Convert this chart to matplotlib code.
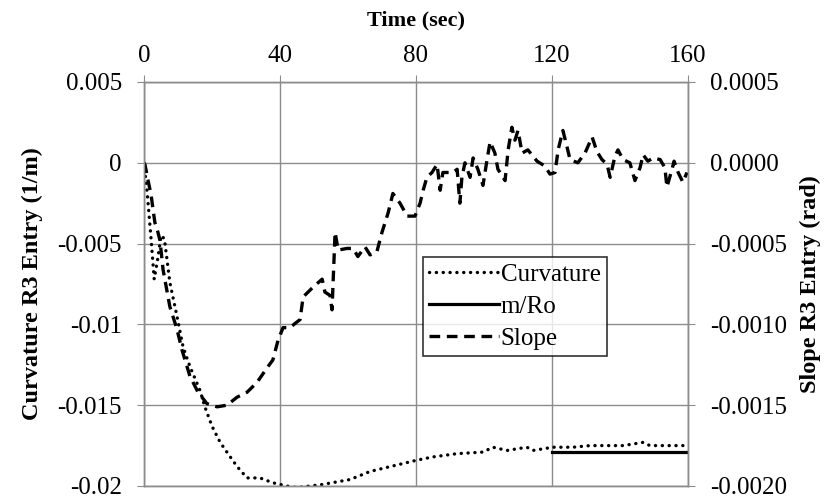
import matplotlib
matplotlib.use("Agg")
import matplotlib.pyplot as plt

plt.rcParams['font.family'] = ['Liberation Serif', 'DejaVu Serif']
plt.rcParams['axes.unicode_minus'] = False

# Curvature (1/m) vs time (s)
curv_t = [0, 1, 2, 3, 4, 5, 6, 7.6, 9.7, 11.5, 13.5, 16.5, 17.9, 20, 22.4, 24.7, 27.4, 30.3,
          34.1, 37.9, 42, 45, 52.6, 60.6, 66.5, 72.4, 80.3, 85, 92, 99.7, 102.6, 106.8,
          112.6, 114.4, 120.3, 126.2, 131.2, 140.9, 146.8, 148.8, 158.5]
curv_v = [0, -0.002, -0.0045, -0.0072, -0.006, -0.0045, -0.0047, -0.0074, -0.0095, -0.0114,
          -0.0126, -0.0141, -0.0151, -0.0163, -0.0173, -0.0180, -0.0188, -0.0195,
          -0.0195, -0.0198, -0.0200, -0.0201, -0.0199, -0.0196, -0.0191, -0.0188, -0.0184,
          -0.0182, -0.0180, -0.0179, -0.0176, -0.0178, -0.0176, -0.0178, -0.0176, -0.0176,
          -0.0175, -0.0175, -0.0173, -0.0175, -0.0175]

# m/Ro reference line
mro_t = [120, 160]
mro_v = [-0.0179, -0.0179]

# Slope (rad) vs time (s)
slope_t = [0, 0.3, 1.2, 2.1, 2.6, 3.2, 4.1, 4.7, 5.6, 7.6, 9.7, 11.2, 13.5, 15.9, 18.5, 21.5,
           24.4, 27.4, 30.3, 33.2, 36.5, 37.9, 39.4, 40.9, 42.9, 45.9, 46.8, 49.7, 52.4,
           53.2, 54.7, 55.3, 56.2, 57.1, 59.7, 61.5, 62.9, 65.0, 66.5, 68.5, 70.0, 71.8,
           73.2, 75.3, 77.4, 79.7, 81.2, 82.1, 83.2, 84.7, 86.2, 87.1, 87.9, 89.4, 90.9,
           92.1, 92.9, 93.5, 94.4, 95.9, 96.8, 98.2, 99.7, 100.9, 101.8, 103.2, 104.1,
           106.2, 107.1, 108.2, 109.1, 110.0, 111.2, 112.9, 115.6, 117.9, 119.4, 120.9,
           121.8, 123.2, 124.4, 125.3, 127.6, 129.7, 131.8, 133.2, 134.7, 136.2, 137.1,
           138.5, 139.4, 140.9, 142.9, 144.4, 145.9, 146.8, 148.2, 149.7, 151.8, 153.2,
           153.8, 155.3, 155.9, 157.1, 158.5, 159.7]
slope_v = [0, -0.000012, -0.00011, -0.0002, -0.00028, -0.00037, -0.00043, -0.00048, -0.00066,
           -0.00089, -0.00103, -0.00116, -0.00132, -0.00142, -0.00149, -0.00151, -0.00150,
           -0.00145, -0.00142, -0.00136, -0.00126, -0.00122, -0.0011, -0.00102, -0.00102,
           -0.00097, -0.00083, -0.00077, -0.00072, -0.0008, -0.00082, -0.00091, -0.00043,
           -0.00054, -0.00053, -0.00053, -0.00058, -0.00052, -0.00057, -0.00055, -0.00043,
           -0.00031, -0.00019, -0.00025, -0.00033, -0.00033, -0.00025, -0.00017, -0.00009,
           -0.00006, -0.00001, -0.00017, -0.00006, -0.00006, -0.00006, -0.00004, -0.00025,
           -0.00009, 0.0, -0.00009, 0.00003, -0.00004, -0.00014, 0.00002, 0.00013, 0.00006,
           -0.00004, -0.00011, 0.00008, 0.00022, 0.00014, 0.0002, 0.00006, 0.00008, 0.00001,
           -0.00002, -0.00007, -0.00006, 0.00008, 0.0002, 0.0001, 0.00002, 0.0, 0.00006,
           0.00016, 0.00007, 0.00002, -0.00001, -0.00009, 0.00004, 0.00008, 0.00002, 0.0,
           -0.00011, -0.00003, 0.00005, 0.00001, 0.00003, 0.00002, -0.00003, -0.00015,
           -0.00004, 0.00001, -0.00006, -0.00012, -0.00006]

x_ticks = [0, 40, 80, 120, 160]
left_ticks = [0.005, 0, -0.005, -0.01, -0.015, -0.02]
left_labels = ['0.005', '0', '-0.005', '-0.01', '-0.015', '-0.02']
right_ticks = [0.0005, 0.0, -0.0005, -0.0010, -0.0015, -0.0020]
right_labels = ['0.0005', '0.0000', '-0.0005', '-0.0010', '-0.0015', '-0.0020']

fig = plt.figure(figsize=(8.26, 4.99), dpi=100)
ax = fig.add_axes([144/826, 1-486/499, 544/826, 404/499])
ax2 = ax.twinx()

grid_c = '#8c8c8c'
fs = 18
fs_lab = 17.5

ax.set_xlim(0, 160)
ax.set_ylim(-0.02, 0.005)
ax2.set_ylim(-0.002, 0.0005)

ax.set_xticks(x_ticks)
ax.xaxis.tick_top()
ax.xaxis.set_label_position('top')
ax.set_yticks(left_ticks)
ax.set_yticklabels(left_labels)
ax2.set_yticks(right_ticks)
ax2.set_yticklabels(right_labels)

ax.grid(True, color=grid_c, lw=1)
ax.set_axisbelow(True)
for a in (ax, ax2):
    for s in a.spines.values():
        s.set_color(grid_c)
        s.set_linewidth(1)

ax.tick_params(axis='x', top=True, bottom=False, labeltop=True, labelbottom=False,
               length=5, color=grid_c, labelsize=fs, pad=6)
ax.tick_params(axis='y', length=5, color=grid_c, labelsize=fs, pad=11)
ax2.tick_params(axis='y', length=5, color=grid_c, labelsize=fs, pad=11)

l1, = ax.plot(curv_t, curv_v, color='black', lw=2.4, linestyle=(0, (0.05, 2.0)),
              dash_capstyle='round', label='Curvature')
l2, = ax.plot(mro_t, mro_v, color='black', lw=2.3, label='m/Ro')
l3, = ax2.plot(slope_t, slope_v, color='black', lw=2.4, linestyle=(0, (3.2, 2.0)),
               label='Slope')

ax.set_xlabel('Time (sec)', fontsize=16, fontweight='bold', labelpad=14)
ax.set_ylabel('Curvature R3 Entry (1/m)', fontsize=fs_lab, fontweight='bold', labelpad=10)
ax2.set_ylabel('Slope R3 Entry (rad)', fontsize=fs_lab, fontweight='bold', labelpad=9)

leg = ax2.legend(handles=[l1, l2, l3], loc='upper left',
                 bbox_to_anchor=((423-144)/544, (486-257)/404),
                 fontsize=fs, frameon=True, fancybox=False, edgecolor='black',
                 handlelength=2.8, handletextpad=0.05, borderpad=0.25, labelspacing=0.38,
                 borderaxespad=0)
leg.get_frame().set_linewidth(1.2)

fig.savefig('out.png', dpi=100)
